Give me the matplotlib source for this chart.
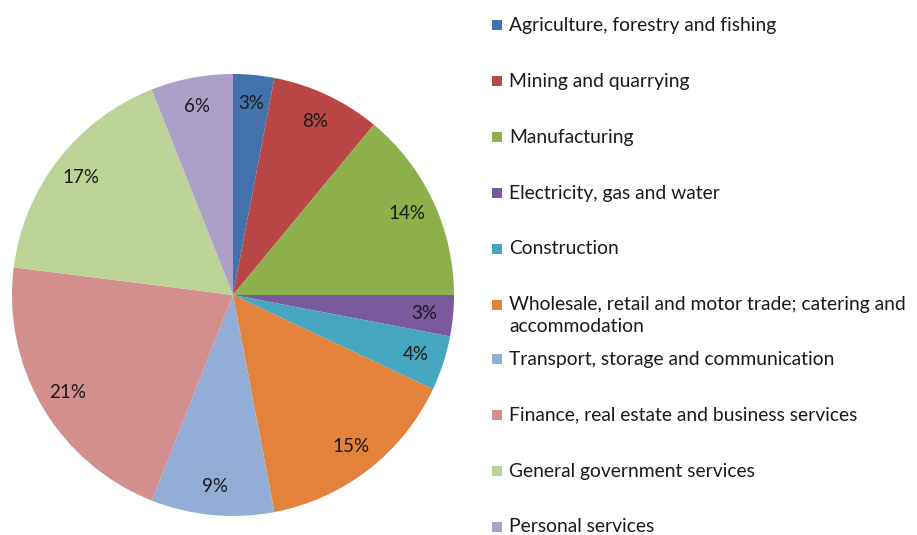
import matplotlib
matplotlib.use("Agg")
import matplotlib.pyplot as plt
from matplotlib.patches import Rectangle

categories = [
    "Agriculture, forestry and fishing",
    "Mining and quarrying",
    "Manufacturing",
    "Electricity, gas and water",
    "Construction",
    "Wholesale, retail and motor trade; catering and\naccommodation",
    "Transport, storage and communication",
    "Finance, real estate and business services",
    "General government services",
    "Personal services",
]
values = [3, 8, 14, 3, 4, 15, 9, 21, 17, 6]
colors = ["#4472AE", "#B94745", "#8DAF4C", "#7A5A9C", "#46A6C0",
          "#E2823B", "#93AED6", "#D38F8E", "#BBD396", "#ADA0C8"]

W, H = 917, 535
fig = plt.figure(figsize=(W / 100, H / 100), dpi=100)
fig.patch.set_facecolor("white")
plt.rcParams['font.family'] = ['Lato', 'DejaVu Sans']

FS = 13.9
cx, cy, r = 233, 295, 221
ax = fig.add_axes([(cx - r) / W, (H - cy - r) / H, 2 * r / W, 2 * r / H])
wedges, texts, autotexts = ax.pie(
    values, colors=colors, startangle=90, counterclock=False,
    autopct=lambda p: f"{p:.0f}%", pctdistance=0.87,
    wedgeprops=dict(linewidth=0),
    textprops=dict(fontsize=13.5, color="#1a1a1a"))
ax.set_xlim(-1, 1)
ax.set_ylim(-1, 1)
ax.set_aspect("equal")
ax.axis("off")

# legend
ys = [25, 81, 137, 193, 249, 305, 359, 415, 471, 527]
for lab, col, y in zip(categories, colors, ys):
    fig.patches.append(Rectangle((492 / W, (H - y - 5) / H), 10 / W, 10 / H,
                                 transform=fig.transFigure, facecolor=col,
                                 edgecolor="none"))
    if "\n" in lab:
        fig.text(509 / W, (H - y + 9) / H, lab, fontsize=FS, color="#1a1a1a",
                 va="top", ha="left", linespacing=1.35)
    else:
        fig.text(509 / W, (H - y) / H, lab, fontsize=FS, color="#1a1a1a",
                 va="center", ha="left")

fig.savefig("out.png", dpi=100, facecolor="white")
